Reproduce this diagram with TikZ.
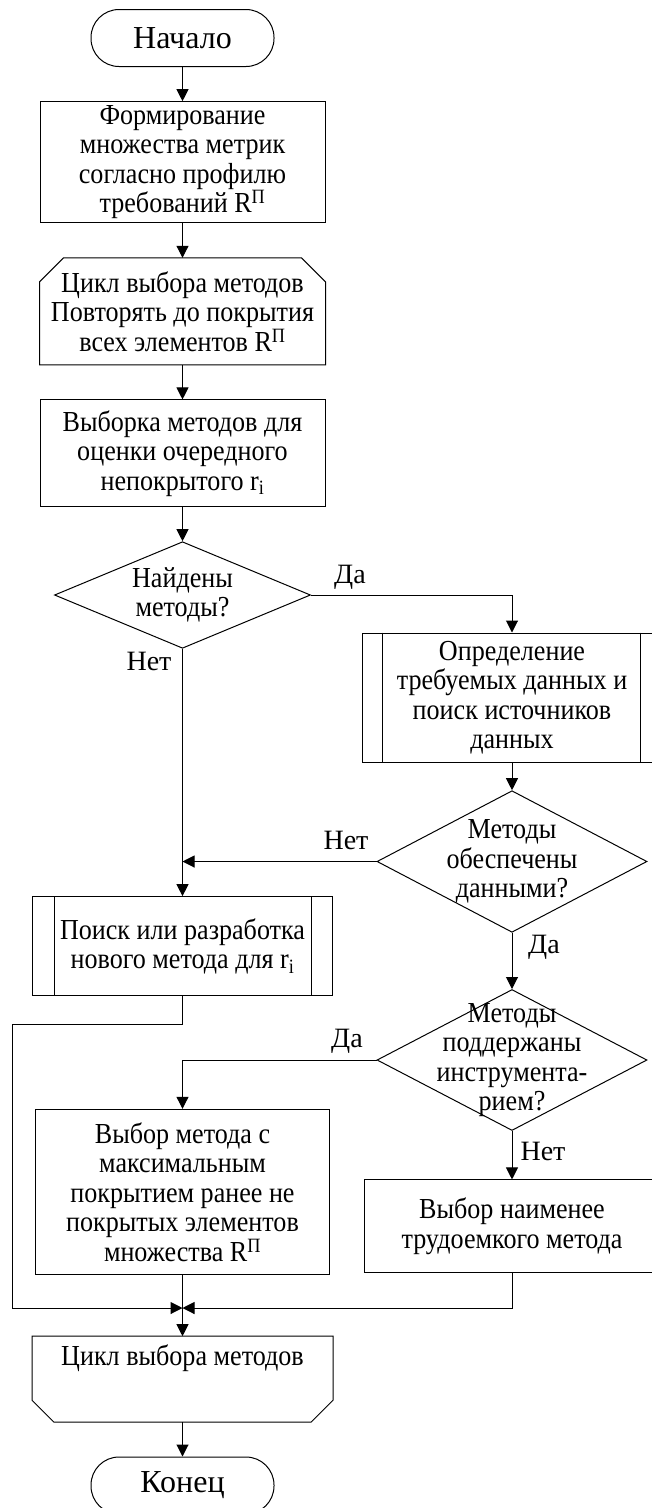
\documentclass[tikz,border=0pt]{standalone}
\usepackage{fontspec}
\setmainfont[FakeStretch=0.9]{Liberation Serif}
\newfontfamily\plainserif{Liberation Serif}
\usepackage{tikz}
\usetikzlibrary{arrows.meta}
\usetikzlibrary{positioning}
\usetikzlibrary{shapes.geometric}

\begin{document}
\begin{tikzpicture}[x=1pt,y=-1pt,line width=1pt,
  font=\fontsize{29}{29.5}\selectfont,
  >={Triangle[length=12pt,width=12pt]},
  term/.style={draw,rectangle,rounded corners=28pt,minimum width=183pt,minimum height=57pt,inner sep=0pt,
    font=\plainserif\fontsize{32}{34}\selectfont},
  proc/.style={draw,rectangle,align=center,inner sep=0pt},
  frame/.style={rectangle,align=center,inner sep=0pt},
  cond/.style={draw,diamond,inner sep=0pt},
  lbl/.style={inner sep=0pt,align=center,font=\plainserif\fontsize{28}{30}\selectfont}]
\useasboundingbox (0,0) rectangle (651,1508);

\node[term] at (182.5,38) (start) {Начало};
\node[proc,minimum width=285pt,minimum height=120.6pt] at (182.5,162) (form)
  {Формирование\\множества метрик\\согласно профилю\\требований R\textsuperscript{П}};
\node[frame,minimum width=285pt,minimum height=106pt] at (182.5,311.3) (loopS)
  {Цикл выбора методов\\Повторять до покрытия\\всех элементов R\textsuperscript{П}};
\node[proc,minimum width=285pt,minimum height=106.7pt] at (182.5,453.3) (sel)
  {Выборка методов для\\оценки очередного\\непокрытого r\textsubscript{i}};
\node[cond,minimum width=256pt,minimum height=106.6pt] at (182.5,595) (found) {};
\node[align=center,inner sep=0pt] at (found) (foundtxt) {Найдены\\методы?};
\node[proc,minimum width=300pt,minimum height=129pt] at (512,697.5) (data)
  {Определение\\требуемых данных и\\поиск источников\\данных};
\node[cond,minimum width=270pt,minimum height=141.6pt] at (512,861.5) (prov) {};
\node[align=center,inner sep=0pt] at (prov) (provtxt) {Методы\\обеспечены\\данными?};
\node[proc,minimum width=300pt,minimum height=99.3pt] at (182.5,946.3) (search)
  {Поиск или разработка\\нового метода для r\textsubscript{i}};
\node[cond,minimum width=270pt,minimum height=141pt] at (512,1060) (tool) {};
\node[align=center,inner sep=0pt] at (tool) (tooltxt) {Методы\\поддержаны\\инструмента-\\рием?};
\node[proc,minimum width=294pt,minimum height=165.4pt] at (182.5,1192) (best)
  {Выбор метода с\\максимальным\\покрытием ранее не\\покрытых элементов\\множества R\textsuperscript{П}};
\node[proc,minimum width=296pt,minimum height=92.7pt] at (512,1226.3) (easy)
  {Выбор наименее\\трудоемкого метода};
\node[frame,minimum width=300pt,text height=29pt,text depth=56pt] at (182.5,1379.2) (loopE)
  {Цикл выбора методов};
\node[term] at (182.5,1485.5) (end) {Конец};

% loop limit outlines
\draw ([xshift=24pt]loopS.north west) -- ([xshift=-24pt]loopS.north east)
  -- ([yshift=-24pt]loopS.north east) -- (loopS.south east) -- (loopS.south west)
  -- ([yshift=-24pt]loopS.north west) -- cycle;
\draw (loopE.north west) -- (loopE.north east) -- ([yshift=22pt]loopE.south east)
  -- ([xshift=-22pt]loopE.south east) -- ([xshift=22pt]loopE.south west)
  -- ([yshift=22pt]loopE.south west) -- cycle;
% subprocess side bars
\draw ([xshift=21pt]data.north west) -- ([xshift=21pt]data.south west);
\draw ([xshift=-22pt]data.north east) -- ([xshift=-22pt]data.south east);
\draw ([xshift=22pt]search.north west) -- ([xshift=22pt]search.south west);
\draw ([xshift=-22pt]search.north east) -- ([xshift=-22pt]search.south east);

\coordinate (join) at (found.south |- prov.west);
\coordinate (lft) at (12.7,1024.3);
\coordinate (mrg) at (182.5,1308);

\draw[->] (start) -- (form);
\draw[->] (form) -- (loopS);
\draw[->] (loopS) -- (sel);
\draw[->] (sel) -- (found);
\draw[->] (found.east) -| (data.north);
\draw[->] (found) -- (search);
\draw[->] (data) -- (prov);
\draw[->] (prov.west) -- (join);
\draw[->] (prov) -- (tool);
\draw[->] (tool.west) -| (best.north);
\draw[->] (tool) -- (easy);
\draw[->] (search.south) |- (lft) |- (mrg);
\draw[->] (easy.south) |- (mrg);
\draw[->] (best) -- (loopE);
\draw[->] (loopE) -- (end);

\node[lbl] at (350,577) (yes1) {Да};
\node[lbl] at (149,661) (no1) {Нет};
\node[lbl] at (346,840) (no2) {Нет};
\node[lbl] at (544,947) (yes2) {Да};
\node[lbl] at (347,1041) (yes3) {Да};
\node[lbl] at (543,1151) (no3) {Нет};
\end{tikzpicture}
\end{document}
